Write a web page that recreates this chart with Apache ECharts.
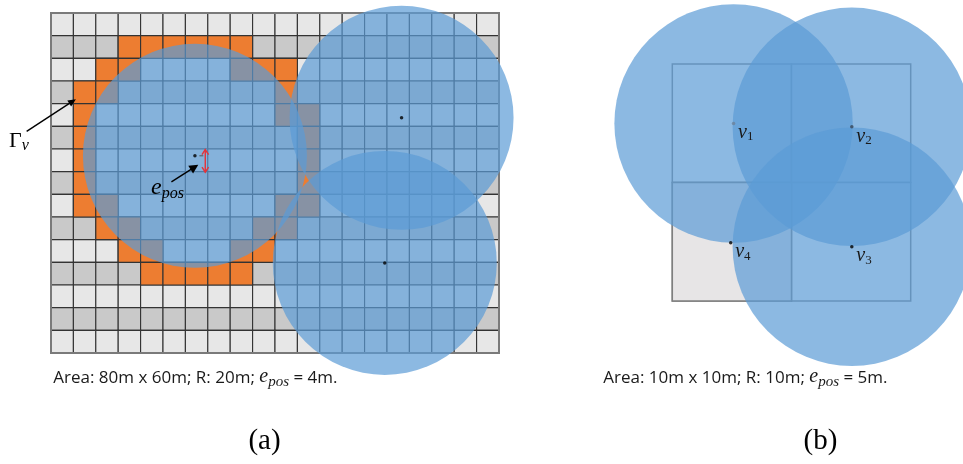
<!DOCTYPE html>
<html>
<head>
<meta charset="utf-8">
<script src="https://cdn.jsdelivr.net/npm/echarts@6/dist/echarts.min.js"></script>
<style>
  html, body { margin: 0; padding: 0; background: #ffffff; }
  #chart { width: 963px; height: 464px; }
</style>
</head>
<body>
<div id="chart"></div>
<script>
// ---------- Panel (a): 80 m x 60 m area, 4 m cells ----------
const areaA = [80, 60];
const cellA = 4;
const rangeA = 20;            // sensing radius R (m)
const eposA = 4;              // positioning error (m)
// boundary cells Γv, as [column, row]
const boundaryCellsA = [
  [3, 1], [4, 1], [5, 1], [6, 1], [7, 1], [8, 1],
  [2, 2], [3, 2], [8, 2], [9, 2], [10, 2],
  [1, 3], [2, 3], [10, 3],
  [1, 4], [10, 4], [11, 4],
  [1, 5], [11, 5],
  [1, 6], [11, 6],
  [1, 7], [11, 7],
  [1, 8], [2, 8], [10, 8], [11, 8],
  [2, 9], [3, 9], [9, 9], [10, 9],
  [3, 10], [4, 10], [8, 10], [9, 10],
  [4, 11], [5, 11], [6, 11], [7, 11], [8, 11]
];
// sensor positions (m)
const sensorsA = [[25.7, 25.2], [62.6, 18.5], [59.6, 44.1]];

// ---------- Panel (b): 10 m x 10 m area, 5 m cells ----------
const areaB = [10, 10];
const cellB = 5;
const rangeB = 5;             // disc radius drawn (m)
const vertexNames = ['1', '2', '3', '4'];
const verticesB = [[2.57, 2.51], [7.53, 2.65], [7.53, 7.71], [2.45, 7.54]];
const discVerticesB = [0, 1, 2];   // vertices carrying a sensor disc
const shadedCellsB = [[0, 1]];

const captionA = ['Area: 80m x 60m; R: 20m; ', ' = 4m.'];
const captionB = ['Area: 10m x 10m; R: 10m; ', ' = 5m.'];

// ---------- helpers ----------
const DISC = 'rgba(91,155,213,0.7)';

function cellRenderer(size, fillFn, stroke, lw) {
  return function (params, api) {
    const c = api.value(0), r = api.value(1);
    const p0 = api.coord([c * size, r * size]);
    const p1 = api.coord([(c + 1) * size, (r + 1) * size]);
    return {
      type: 'rect',
      shape: { x: p0[0], y: Math.min(p0[1], p1[1]), width: p1[0] - p0[0], height: Math.abs(p1[1] - p0[1]) },
      style: { fill: fillFn(c, r), stroke: stroke, lineWidth: lw }
    };
  };
}

function discRenderer(radius) {
  return function (params, api) {
    const p = api.coord([api.value(0), api.value(1)]);
    const r = api.size([radius, 0])[0];
    return { type: 'circle', shape: { cx: p[0], cy: p[1], r: r }, style: { fill: DISC } };
  };
}

const baseCellsA = [];
for (let r = 0; r < areaA[1] / cellA; r++)
  for (let c = 0; c < areaA[0] / cellA; c++) baseCellsA.push([c, r]);
const baseCellsB = [];
for (let r = 0; r < areaB[1] / cellB; r++)
  for (let c = 0; c < areaB[0] / cellB; c++) baseCellsB.push([c, r]);

const chart = echarts.init(document.getElementById('chart'), null, { width: 963, height: 464 });

chart.setOption({
  backgroundColor: '#ffffff',
  animation: false,
  grid: [
    { left: 51, top: 13, width: 448, height: 340 },
    { left: 672.3, top: 64, width: 238.4, height: 237 }
  ],
  xAxis: [
    { gridIndex: 0, type: 'value', min: 0, max: areaA[0], show: false },
    { gridIndex: 1, type: 'value', min: 0, max: areaB[0], show: false }
  ],
  yAxis: [
    { gridIndex: 0, type: 'value', min: 0, max: areaA[1], inverse: true, show: false },
    { gridIndex: 1, type: 'value', min: 0, max: areaB[1], inverse: true, show: false }
  ],
  series: [
    {
      type: 'custom', xAxisIndex: 0, yAxisIndex: 0, silent: true,
      data: baseCellsA,
      renderItem: cellRenderer(cellA, (c, r) => (r % 2 ? '#c9c9c9' : '#e7e7e7'), '#333333', 1.1)
    },
    {
      type: 'custom', xAxisIndex: 0, yAxisIndex: 0, silent: true,
      data: boundaryCellsA,
      renderItem: cellRenderer(cellA, () => '#ed7d31', '#333333', 1.1)
    },
    {
      type: 'custom', xAxisIndex: 0, yAxisIndex: 0, silent: true,
      data: [[0, 0]],
      renderItem: function (params, api) {
        const p0 = api.coord([0, 0]), p1 = api.coord(areaA);
        return { type: 'rect', shape: { x: p0[0], y: p0[1], width: p1[0] - p0[0], height: p1[1] - p0[1] },
                 style: { fill: 'none', stroke: '#7a7a7a', lineWidth: 2 } };
      }
    },
    {
      type: 'custom', xAxisIndex: 0, yAxisIndex: 0, silent: true,
      data: sensorsA,
      renderItem: discRenderer(rangeA)
    },
    {
      type: 'scatter', xAxisIndex: 0, yAxisIndex: 0, silent: true,
      data: sensorsA, symbolSize: 3.5, itemStyle: { color: '#000000' }
    },
    {
      type: 'custom', xAxisIndex: 1, yAxisIndex: 1, silent: true,
      data: baseCellsB,
      renderItem: cellRenderer(cellB, () => '#ffffff', '#7f7f7f', 1.5)
    },
    {
      type: 'custom', xAxisIndex: 1, yAxisIndex: 1, silent: true,
      data: shadedCellsB,
      renderItem: cellRenderer(cellB, () => '#e7e5e6', '#7f7f7f', 1.5)
    },
    {
      type: 'custom', xAxisIndex: 1, yAxisIndex: 1, silent: true,
      data: discVerticesB.map(i => verticesB[i]),
      renderItem: discRenderer(rangeB)
    },
    {
      type: 'scatter', xAxisIndex: 1, yAxisIndex: 1, silent: true,
      data: verticesB, symbolSize: 3.5,
      itemStyle: { color: p => ['#6d8199', '#3a4656', '#000000', '#000000'][p.dataIndex] }
    }
  ]
});

// ---------- annotations ----------
const measureCtx = document.createElement('canvas').getContext('2d');
function run(x, y, parts, color) {
  const els = [];
  let cx = x;
  parts.forEach(p => {
    measureCtx.font = p.font;
    els.push({ type: 'text', x: cx, y: y + (p.dy || 0), z: 100, silent: true,
               style: { text: p.t, font: p.font, fill: color || '#000000', align: 'left', verticalAlign: 'middle' } });
    cx += measureCtx.measureText(p.t).width;
  });
  return els;
}
function arrowHead(tip, from, len, half, color) {
  const dx = tip[0] - from[0], dy = tip[1] - from[1];
  const L = Math.hypot(dx, dy), ux = dx / L, uy = dy / L;
  const bx = tip[0] - ux * len, by = tip[1] - uy * len;
  return { type: 'polygon', z: 100, silent: true,
           shape: { points: [tip, [bx - uy * half, by + ux * half], [bx + uy * half, by - ux * half]] },
           style: { fill: color } };
}
function arrow(from, tip, len, half, color, lw) {
  const dx = tip[0] - from[0], dy = tip[1] - from[1];
  const L = Math.hypot(dx, dy);
  const end = [tip[0] - dx / L * (len * 0.8), tip[1] - dy / L * (len * 0.8)];
  return [
    { type: 'line', z: 100, silent: true, shape: { x1: from[0], y1: from[1], x2: end[0], y2: end[1] },
      style: { stroke: color, lineWidth: lw } },
    arrowHead(tip, from, len, half, color)
  ];
}
const pxA = v => chart.convertToPixel({ gridIndex: 0 }, v);
const pxB = v => chart.convertToPixel({ gridIndex: 1 }, v);

const SERIF = '"Liberation Serif", "DejaVu Serif", serif';
const SANS = '"Open Sans", "Liberation Sans", sans-serif';
const graphics = [];

// Γv pointer
graphics.push(...arrow(pxA([-4.35, 20.9]), pxA([4.45, 15.2]), 8, 3.5, '#000000', 1.4));
graphics.push(...run(9, 141, [
  { t: 'Γ', font: '22px ' + SERIF },
  { t: 'v', font: 'italic 16px ' + SERIF, dy: 5 }
]));

// e_pos pointer and error bar
const s0 = sensorsA[0];
graphics.push(...arrow(pxA([21.5, 29.8]), pxA([26.3, 26.8]), 9, 4.5, '#000000', 1.4));
graphics.push(...run(151, 188, [
  { t: 'e', font: 'italic 24px ' + SERIF },
  { t: 'pos', font: 'italic 16px ' + SERIF, dy: 6 }
]));
const dashA = pxA([s0[0] + 0.8, s0[1]]), dashB = pxA([s0[0] + 1.5, s0[1]]);
graphics.push({ type: 'line', z: 100, silent: true, shape: { x1: dashA[0], y1: dashA[1], x2: dashB[0], y2: dashB[1] },
                style: { stroke: '#555555', lineWidth: 1 } });
const eTop = pxA([27.55, s0[1] - 1.1]), eBot = pxA([27.55, s0[1] - 1.1 + eposA]);
graphics.push({ type: 'line', z: 100, silent: true, shape: { x1: eTop[0], y1: eTop[1], x2: eBot[0], y2: eBot[1] },
                style: { stroke: '#e5333a', lineWidth: 1.4 } });
graphics.push({ type: 'polyline', z: 100, silent: true,
                shape: { points: [[eTop[0] - 3.3, eTop[1] + 5], eTop, [eTop[0] + 3.3, eTop[1] + 5]] },
                style: { stroke: '#e5333a', lineWidth: 1.4, fill: null } });
graphics.push({ type: 'polyline', z: 100, silent: true,
                shape: { points: [[eBot[0] - 3.3, eBot[1] - 5], eBot, [eBot[0] + 3.3, eBot[1] - 5]] },
                style: { stroke: '#e5333a', lineWidth: 1.4, fill: null } });

// vertex labels in panel (b)
verticesB.forEach((v, i) => {
  const p = pxB(v);
  graphics.push(...run(p[0] + 4.5, p[1] + 9.5, [
    { t: 'v', font: 'italic 20px ' + SERIF },
    { t: vertexNames[i], font: '13px ' + SERIF, dy: 4 }
  ], '#1a1a1a'));
});

// captions
function caption(x, y, parts) {
  return run(x, y, [
    { t: parts[0], font: '17px ' + SANS },
    { t: 'e', font: 'italic 20px ' + SERIF, dy: -1 },
    { t: 'pos', font: 'italic 15px ' + SERIF, dy: 4 },
    { t: parts[1], font: '17px ' + SANS }
  ], '#1a1a1a');
}
graphics.push(...caption(53.3, 378, captionA));
graphics.push(...caption(603.3, 378, captionB));

graphics.push({ type: 'text', x: 264.5, y: 441, z: 100, silent: true,
                style: { text: '(a)', font: '29px ' + SERIF, fill: '#000000', align: 'center', verticalAlign: 'middle' } });
graphics.push({ type: 'text', x: 820.5, y: 441, z: 100, silent: true,
                style: { text: '(b)', font: '29px ' + SERIF, fill: '#000000', align: 'center', verticalAlign: 'middle' } });

chart.setOption({ graphic: graphics });
</script>
</body>
</html>
